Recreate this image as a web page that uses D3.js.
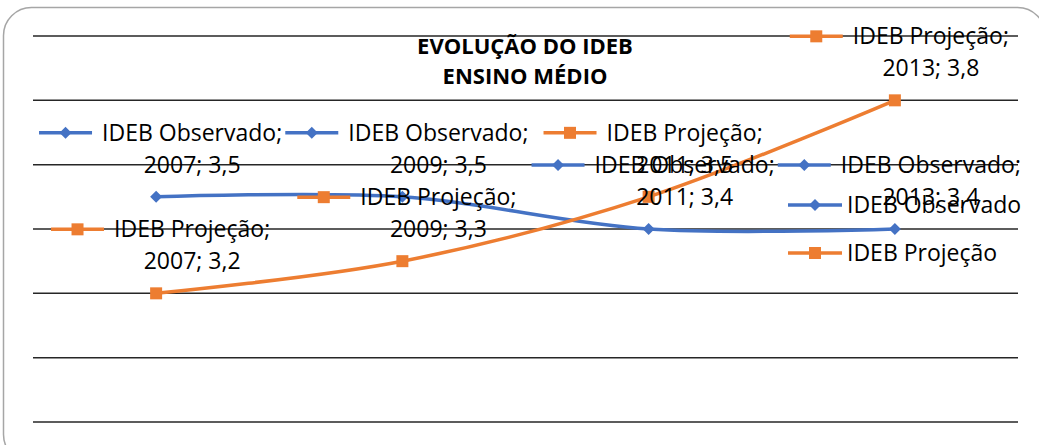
<!DOCTYPE html>
<html>
<head>
<meta charset="utf-8">
<script src="https://cdn.jsdelivr.net/npm/d3@7"></script>
<style>
  body { margin: 0; background: #fff; }
  text { font-family: "Open Sans", sans-serif; }
</style>
</head>
<body>
<svg id="chart" width="1039" height="445"></svg>
<script>
// chart data
const years = ["2007", "2009", "2011", "2013"];
const observado = [3.5, 3.5, 3.4, 3.4];
const projecao = [3.2, 3.3, 3.5, 3.8];
const seriesNames = ["IDEB Observado", "IDEB Projeção"];
const gridValues = [2.8, 3.0, 3.2, 3.4, 3.6, 3.8, 4.0];
const titleLines = ["EVOLUÇÃO DO IDEB", "ENSINO MÉDIO"];

const width = 1039, height = 445;
const margin = {top: 36, right: 21, bottom: 23, left: 33};
const colors = ["#4472C4", "#ED7D31"];

const svg = d3.select("#chart");

// outer rounded frame (bottom and right edges run past the picture)
svg.append("rect")
    .attr("x", 3.5).attr("y", 7.5)
    .attr("width", 1042).attr("height", 455)
    .attr("rx", 28)
    .attr("fill", "#fff")
    .attr("stroke", "#a6a6a6")
    .attr("stroke-width", 1.5);

const xScale = d3.scalePoint()
    .domain(years)
    .range([margin.left, width - margin.right])
    .padding(0.5);

const yScale = d3.scaleLinear()
    .domain([2.8, 4.0])
    .range([height - margin.bottom, margin.top]);

// gridlines
svg.append("g")
    .selectAll("line")
    .data(gridValues)
    .enter().append("line")
    .attr("x1", margin.left)
    .attr("x2", width - margin.right)
    .attr("y1", d => yScale(d))
    .attr("y2", d => yScale(d))
    .attr("stroke", "#262626")
    .attr("stroke-width", 1.5);

// title
svg.append("text")
    .attr("x", 525)
    .attr("y", 54)
    .attr("text-anchor", "middle")
    .attr("font-size", "22px")
    .attr("font-weight", "bold")
    .selectAll("tspan")
    .data(titleLines)
    .enter().append("tspan")
    .attr("x", 525)
    .attr("dy", (d, i) => i === 0 ? 0 : 30)
    .text(d => d);

const series = [observado, projecao].map((vals, s) => ({
    name: seriesNames[s],
    color: colors[s],
    shape: s === 0 ? d3.symbolDiamond : d3.symbolSquare,
    points: vals.map((v, i) => ({year: years[i], value: v}))
}));

const line = d3.line()
    .curve(d3.curveCardinal.tension(0))
    .x(d => xScale(d.year))
    .y(d => yScale(d.value));

// marker helper (diamond is a bit narrower, like Excel's)
const markerPath = (shape) => shape === d3.symbolDiamond
    ? "M0,-6L6,0L0,6L-6,0Z"
    : d3.symbol().type(d3.symbolSquare).size(144)();

series.forEach(s => {
    svg.append("path")
        .datum(s.points)
        .attr("fill", "none")
        .attr("stroke", s.color)
        .attr("stroke-width", 3.5)
        .attr("d", line);
});

series.forEach(s => {
    svg.append("g")
        .selectAll("path")
        .data(s.points)
        .enter().append("path")
        .attr("d", markerPath(s.shape))
        .attr("transform", d => `translate(${xScale(d.year)},${yScale(d.value)})`)
        .attr("fill", s.color);
});

const fmt = v => d3.format(".1f")(v).replace(".", ",");

// legend key: short line with marker in the middle
function drawKey(g, x1, x2, y, s) {
    g.append("line")
        .attr("x1", x1).attr("x2", x2)
        .attr("y1", y).attr("y2", y)
        .attr("stroke", s.color)
        .attr("stroke-width", 3.5);
    g.append("path")
        .attr("d", markerPath(s.shape))
        .attr("transform", `translate(${(x1 + x2) / 2},${y})`)
        .attr("fill", s.color);
}

// data labels (series name; category; value) with legend key
const labelG = svg.append("g");
series.forEach(s => {
    s.points.forEach(p => {
        const cx = xScale(p.year) + 36;
        const cy = yScale(p.value);
        const t1 = labelG.append("text")
            .attr("x", cx)
            .attr("y", cy - 64)
            .attr("dy", "0.35em")
            .attr("text-anchor", "middle")
            .attr("font-size", "23px")
            .attr("fill", "#000")
            .text(s.name + ";");
        const w = t1.node().getComputedTextLength();
        labelG.append("text")
            .attr("x", cx)
            .attr("y", cy - 32)
            .attr("dy", "0.35em")
            .attr("text-anchor", "middle")
            .attr("font-size", "23px")
            .attr("fill", "#000")
            .text(`${p.year}; ${fmt(p.value)}`);
        const start = cx - w / 2;
        drawKey(labelG, start - 63, start - 10, cy - 64, s);
    });
});

// legend
const legend = svg.append("g");
series.forEach((s, i) => {
    const y = 205 + i * 48;
    drawKey(legend, 788, 842, y, s);
    legend.append("text")
        .attr("x", 847)
        .attr("y", y)
        .attr("dy", "0.35em")
        .attr("font-size", "23px")
        .attr("fill", "#000")
        .text(s.name);
});
</script>
</body>
</html>
